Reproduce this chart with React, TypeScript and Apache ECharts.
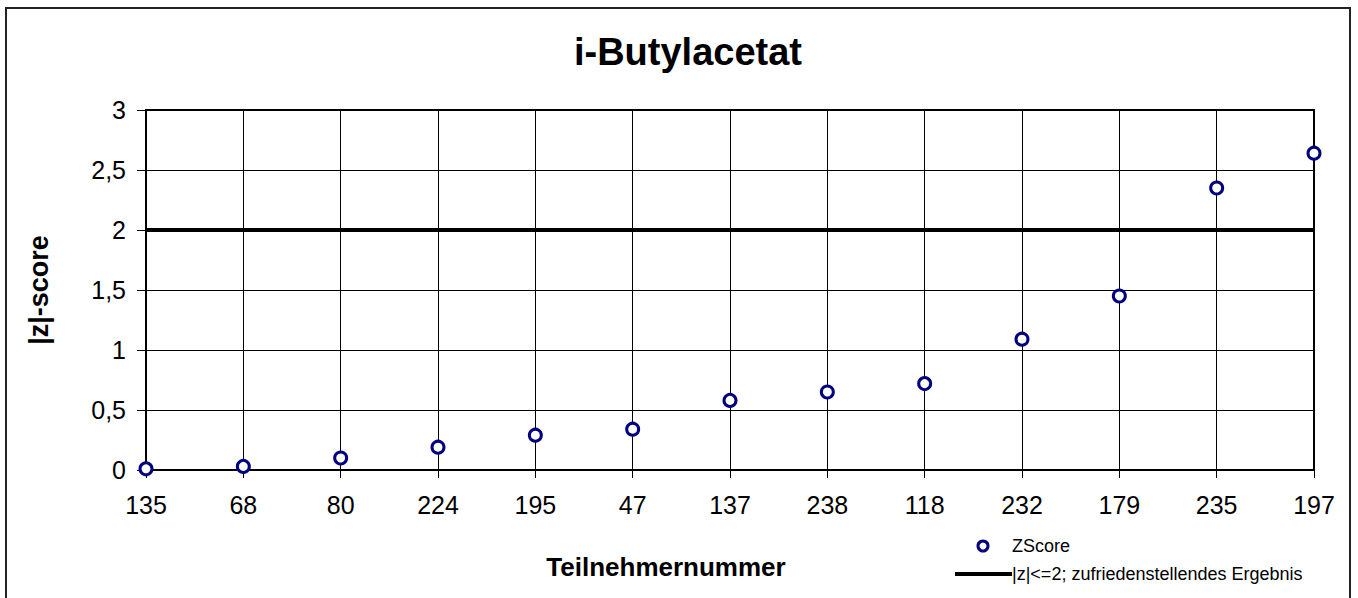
import React, { useEffect, useRef } from "react";
import * as echarts from "echarts";

const categories = ["135", "68", "80", "224", "195", "47", "137", "238", "118", "232", "179", "235", "197"];
const zScores = [0.01, 0.03, 0.1, 0.19, 0.29, 0.34, 0.58, 0.65, 0.72, 1.09, 1.45, 2.35, 2.64];
const limitValue = 2;
const limitLine = categories.map(() => limitValue);

const FONT = "Liberation Sans, Arial, sans-serif";

export default function App() {
  const ref = useRef<HTMLDivElement>(null);
  useEffect(() => {
    document.body.style.margin = "0";
    const chart = echarts.init(ref.current!, null, { renderer: "svg" });
    chart.setOption({
      animation: false,
      backgroundColor: "#fff",
      textStyle: { fontFamily: FONT },
      title: {
        text: "i-Butylacetat",
        left: 683,
        textAlign: "center",
        top: 28,
        textStyle: { fontSize: 38, fontWeight: "bold", color: "#000", fontFamily: FONT },
      },
      grid: {
        left: 146,
        right: 44,
        top: 110,
        bottom: 128,
        show: true,
        borderColor: "#000",
        borderWidth: 2,
        backgroundColor: "transparent",
      },
      xAxis: {
        type: "category",
        data: categories,
        boundaryGap: false,
        name: "Teilnehmernummer",
        nameLocation: "middle",
        nameGap: 84,
        nameTextStyle: {
          fontSize: 26,
          fontWeight: "bold",
          color: "#000",
          fontFamily: FONT,
          padding: [0, 128, 0, 0],
        },
        axisLine: { lineStyle: { color: "#000", width: 2 } },
        axisTick: { show: true, length: 8, lineStyle: { color: "#000", width: 1 }, alignWithLabel: true },
        axisLabel: { fontSize: 25, color: "#000", margin: 22, fontFamily: FONT, interval: 0 },
        splitLine: { show: true, lineStyle: { color: "#000", width: 1 } },
      },
      yAxis: {
        type: "value",
        min: 0,
        max: 3,
        interval: 0.5,
        name: "|z|-score",
        nameLocation: "middle",
        nameGap: 94,
        nameRotate: 90,
        nameTextStyle: { fontSize: 27, fontWeight: "bold", color: "#000", fontFamily: FONT },
        axisLine: { show: true, lineStyle: { color: "#000", width: 2 } },
        axisTick: { show: true, length: 9, lineStyle: { color: "#000", width: 1 } },
        axisLabel: {
          fontSize: 25,
          color: "#000",
          margin: 20,
          fontFamily: FONT,
          formatter: (v: number) => String(v).replace(".", ","),
        },
        splitLine: { show: true, lineStyle: { color: "#000", width: 1 } },
      },
      series: [
        {
          name: "|z|<=2; zufriedenstellendes Ergebnis",
          type: "line",
          data: limitLine,
          symbol: "none",
          lineStyle: { color: "#000", width: 4 },
          z: 3,
        },
        {
          name: "ZScore",
          type: "scatter",
          data: zScores,
          symbol: "circle",
          symbolSize: 12,
          itemStyle: { color: "#fff", borderColor: "#000080", borderWidth: 3, opacity: 1 },
          z: 5,
        },
      ],
      graphic: [
        {
          type: "rect",
          shape: { x: 6, y: 8, width: 1344, height: 600 },
          style: { fill: "none", stroke: "#222", lineWidth: 2 },
          silent: true,
          z: -1,
        },
        {
          type: "circle",
          shape: { cx: 983, cy: 546, r: 5 },
          style: { fill: "#fff", stroke: "#000080", lineWidth: 3 },
        },
        {
          type: "text",
          x: 1012,
          y: 546,
          style: { text: "ZScore", fontSize: 18, fill: "#000", fontFamily: FONT, verticalAlign: "middle" },
        },
        {
          type: "line",
          shape: { x1: 955, y1: 574, x2: 1012, y2: 574 },
          style: { stroke: "#000", lineWidth: 4 },
        },
        {
          type: "text",
          x: 1012,
          y: 574,
          style: {
            text: "|z|<=2; zufriedenstellendes Ergebnis",
            fontSize: 18,
            fill: "#000",
            fontFamily: FONT,
            verticalAlign: "middle",
          },
        },
      ],
    });
    return () => chart.dispose();
  }, []);
  return <div ref={ref} style={{ width: 1358, height: 598 }} />;
}
